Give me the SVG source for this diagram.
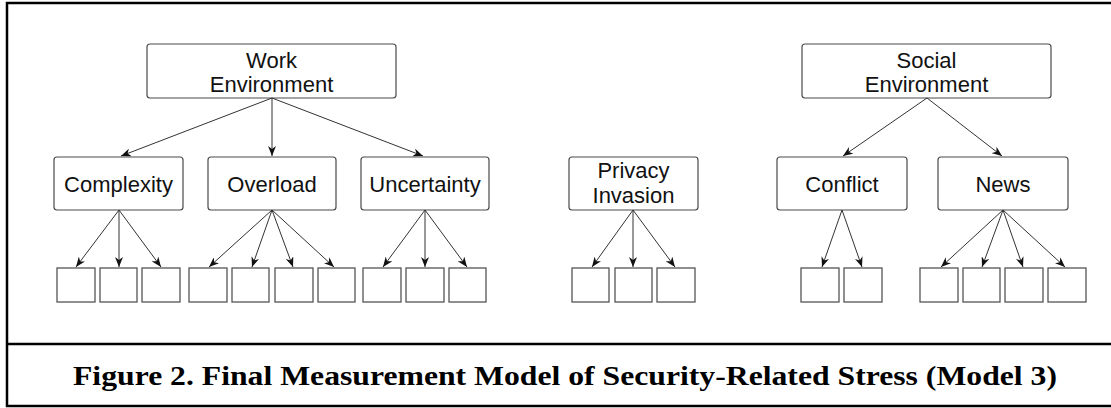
<svg xmlns="http://www.w3.org/2000/svg" width="1111" height="408" viewBox="0 0 1111 408">
<defs>
<style>
.frame{fill:none;stroke:#000;stroke-width:2.5}
.node rect{fill:#fff;stroke:#4a4a4a;stroke-width:1.2}
.node text{font-family:"Liberation Sans",Arial,sans-serif;font-size:22px;fill:#111;text-anchor:middle}
.ind rect{fill:#fff;stroke:#555;stroke-width:1.3}
.conn line{stroke:#333;stroke-width:1;marker-end:url(#arr)}
.cap{font-family:"Liberation Serif","Times New Roman",serif;font-weight:bold;font-size:27px;fill:#000}
</style>
<marker id="arr" viewBox="0 0 10 8" refX="10" refY="4" markerWidth="10" markerHeight="8" markerUnits="userSpaceOnUse" orient="auto">
<path d="M0,0 L10,4 L0,8 L3,4 Z" fill="#111"/>
</marker>
</defs>
<rect width="1111" height="408" fill="#fff"/>
<path class="frame" d="M1111,3 H7 V406 H1111 M7,344 H1111"/>

<g id="work-environment" class="node"><rect x="147" y="44" width="249" height="54" rx="3"/><text x="271.5" y="68">Work</text><text x="271.5" y="92">Environment</text></g>
<g id="social-environment" class="node"><rect x="802" y="44" width="249" height="54" rx="3"/><text x="926.5" y="68">Social</text><text x="926.5" y="92">Environment</text></g>

<g id="complexity" class="node"><rect x="54" y="157" width="129" height="53" rx="3"/><text x="118.5" y="192">Complexity</text></g>
<g id="overload" class="node"><rect x="208" y="157" width="128" height="53" rx="3"/><text x="272" y="192">Overload</text></g>
<g id="uncertainty" class="node"><rect x="361" y="157" width="128" height="53" rx="3"/><text x="425" y="192">Uncertainty</text></g>
<g id="privacy-invasion" class="node"><rect x="569" y="157" width="129" height="53" rx="3"/><text x="633.5" y="178">Privacy</text><text x="633.5" y="203">Invasion</text></g>
<g id="conflict" class="node"><rect x="777" y="157" width="130" height="53" rx="3"/><text x="842" y="192">Conflict</text></g>
<g id="news" class="node"><rect x="938" y="157" width="130" height="53" rx="3"/><text x="1003" y="192">News</text></g>

<g id="complexity-items" class="ind"><rect x="57" y="268" width="38" height="34"/><rect x="100" y="268" width="37" height="34"/><rect x="142" y="268" width="38" height="34"/></g>
<g id="overload-items" class="ind"><rect x="189" y="268" width="38" height="34"/><rect x="232" y="268" width="37" height="34"/><rect x="275" y="268" width="38" height="34"/><rect x="318" y="268" width="37" height="34"/></g>
<g id="uncertainty-items" class="ind"><rect x="363" y="268" width="38" height="34"/><rect x="406" y="268" width="38" height="34"/><rect x="449" y="268" width="37" height="34"/></g>
<g id="privacy-items" class="ind"><rect x="572" y="268" width="37" height="34"/><rect x="615" y="268" width="37" height="34"/><rect x="657" y="268" width="38" height="34"/></g>
<g id="conflict-items" class="ind"><rect x="801" y="268" width="38" height="34"/><rect x="844" y="268" width="38" height="34"/></g>
<g id="news-items" class="ind"><rect x="920" y="268" width="38" height="34"/><rect x="963" y="268" width="37" height="34"/><rect x="1005" y="268" width="38" height="34"/><rect x="1048" y="268" width="38" height="34"/></g>

<g id="connectors" class="conn">
<line x1="272" y1="98" x2="121" y2="156"/>
<line x1="272" y1="98" x2="272" y2="156"/>
<line x1="272" y1="98" x2="423" y2="156"/>
<line x1="927" y1="98" x2="843" y2="156"/>
<line x1="927" y1="98" x2="1002" y2="156"/>
<line x1="119" y1="210" x2="76" y2="267"/>
<line x1="119" y1="210" x2="119" y2="267"/>
<line x1="119" y1="210" x2="161" y2="267"/>
<line x1="272" y1="210" x2="209" y2="267"/>
<line x1="272" y1="210" x2="252" y2="267"/>
<line x1="272" y1="210" x2="293" y2="267"/>
<line x1="272" y1="210" x2="334" y2="267"/>
<line x1="425" y1="210" x2="383" y2="267"/>
<line x1="425" y1="210" x2="425" y2="267"/>
<line x1="425" y1="210" x2="467" y2="267"/>
<line x1="633" y1="210" x2="592" y2="267"/>
<line x1="633" y1="210" x2="633" y2="267"/>
<line x1="633" y1="210" x2="675" y2="267"/>
<line x1="842" y1="210" x2="822" y2="267"/>
<line x1="842" y1="210" x2="862" y2="267"/>
<line x1="1003" y1="210" x2="941" y2="267"/>
<line x1="1003" y1="210" x2="982" y2="267"/>
<line x1="1003" y1="210" x2="1023" y2="267"/>
<line x1="1003" y1="210" x2="1065" y2="267"/>
</g>

<text class="cap" x="73" y="385" textLength="984" lengthAdjust="spacingAndGlyphs">Figure 2. Final Measurement Model of Security-Related Stress (Model 3)</text>
</svg>
